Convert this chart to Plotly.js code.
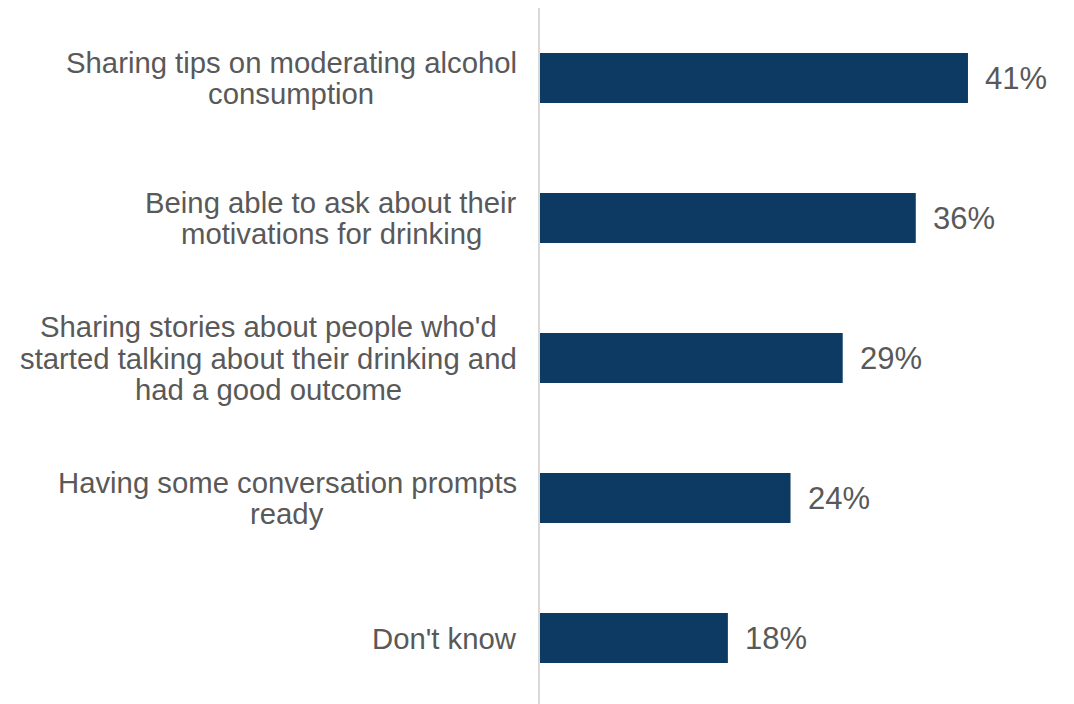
<!DOCTYPE html>
<html><head><meta charset="utf-8">
<script src="https://cdn.plot.ly/plotly-3.0.1.min.js"></script>
<style>html,body{margin:0;padding:0;background:#fff}#chart{width:1074px;height:704px}</style>
</head><body><div id="chart"></div>
<script>
const categories = [
  "Sharing tips on moderating alcohol<br>consumption",
  "Being able to ask about their<br>motivations for drinking",
  "Sharing stories about people who'd<br>started talking about their drinking and<br>had a good outcome",
  "Having some conversation prompts<br>ready",
  "Don't know"
];
const values = [41, 36, 29, 24, 18];
const valueLabels = ["41%", "36%", "29%", "24%", "18%"];

const font = "Liberation Sans, Arial, sans-serif";
const textColor = "#595959";
const labelSize = 29.3;
const pctSize = 31;
const lineGap = 31.5;

const ctx = document.createElement("canvas").getContext("2d");
ctx.font = labelSize + "px 'Liberation Sans', Arial, sans-serif";

const trace = {
  type: "bar", orientation: "h",
  x: values, y: categories,
  marker: {color: "#0c3a62"},
  width: 0.357,
  hoverinfo: "none"
};

const annotations = [];
categories.forEach((c, i) => {
  const lines = c.split("<br>");
  const maxW = Math.max(...lines.map(l => ctx.measureText(l).width));
  const n = lines.length;
  lines.forEach((ln, j) => {
    annotations.push({
      xref: "paper", yref: "y", x: 0, y: c, xanchor: "center", yanchor: "middle",
      xshift: -(23 + maxW / 2), yshift: ((n - 1) / 2 - j) * lineGap,
      text: ln, showarrow: false,
      font: {family: font, size: labelSize, color: textColor}
    });
  });
  annotations.push({
    xref: "x", yref: "y", x: values[i], y: c, xanchor: "left", yanchor: "middle",
    xshift: 15, text: valueLabels[i], showarrow: false,
    font: {family: font, size: pctSize, color: textColor}
  });
});

const layout = {
  width: 1074, height: 704,
  margin: {l: 540, r: 10, t: 8, b: 0},
  paper_bgcolor: "#fff", plot_bgcolor: "#fff",
  showlegend: false,
  xaxis: {range: [0, 50.2], showgrid: false, zeroline: false, showticklabels: false, showline: false, fixedrange: true},
  yaxis: {type: "category", autorange: false, range: [4.471, -0.5], showticklabels: false, showgrid: false, zeroline: false,
          showline: true, linecolor: "#d9d9d9", linewidth: 2, ticks: ""},
  annotations: annotations,
  font: {family: font, color: textColor}
};

Plotly.newPlot("chart", [trace], layout, {displayModeBar: false, staticPlot: true});
</script></body></html>
